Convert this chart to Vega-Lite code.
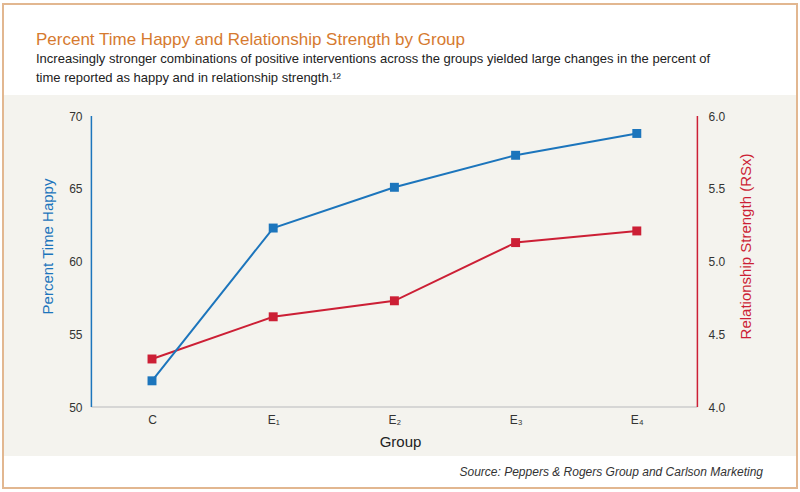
{
  "$schema": "https://vega.github.io/schema/vega-lite/v6.json",
  "width": 794,
  "height": 484,
  "autosize": {"type": "none"},
  "padding": {"left": 3, "top": 4, "right": 3, "bottom": 4},
  "background": "white",
  "config": {
    "view": {"fill": "white", "stroke": "#e2b790", "strokeWidth": 2},
    "font": "Liberation Sans"
  },
  "title": {
    "text": "Percent Time Happy and Relationship Strength by Group",
    "subtitle": [
      "Increasingly stronger combinations of positive interventions across the groups yielded large changes in the percent of",
      "time reported as happy and in relationship strength.¹²"
    ],
    "anchor": "start",
    "frame": "group",
    "orient": "top",
    "offset": 0,
    "dx": 33,
    "dy": 82,
    "font": "Liberation Sans",
    "fontSize": 17,
    "fontWeight": "normal",
    "color": "#d67a2f",
    "subtitleFont": "Liberation Sans",
    "subtitleFontSize": 13,
    "subtitleColor": "#222222",
    "subtitleLineHeight": 19,
    "subtitlePadding": 4
  },
  "datasets": {
    "groups": [
      {"group": "C", "idx": 0, "happy": 51.8, "rsx": 4.33},
      {"group": "E1", "idx": 1, "happy": 62.3, "rsx": 4.62},
      {"group": "E2", "idx": 2, "happy": 65.1, "rsx": 4.73},
      {"group": "E3", "idx": 3, "happy": 67.3, "rsx": 5.13},
      {"group": "E4", "idx": 4, "happy": 68.8, "rsx": 5.21}
    ],
    "one": [{"k": 1}]
  },
  "layer": [
    {
      "data": {"name": "one"},
      "layer": [
        {
          "mark": {"type": "rect", "fill": "#f4f3ee"},
          "encoding": {
            "x": {"datum": -1.2211, "type": "quantitative", "scale": {"domain": [-1.2294, 5.3218], "nice": false, "zero": false}},
            "x2": {"datum": 5.3135},
            "y": {"datum": 71.443, "type": "quantitative", "scale": {"domain": [44.433, 77.698], "nice": false, "zero": false}, "axis": null},
            "y2": {"datum": 46.632}
          }
        },
        {
          "mark": {"type": "rule", "color": "#cdcdcd", "strokeWidth": 1.5},
          "encoding": {
            "x": {"datum": -0.5, "type": "quantitative", "scale": {"domain": [-1.2294, 5.3218], "nice": false, "zero": false}},
            "x2": {"datum": 4.5},
            "y": {"datum": 50, "type": "quantitative", "scale": {"domain": [44.433, 77.698], "nice": false, "zero": false}, "axis": null}
          }
        },
        {
          "mark": {"type": "rule", "color": "#1c75bc", "strokeWidth": 1.5},
          "encoding": {
            "x": {"datum": -0.5, "type": "quantitative", "scale": {"domain": [-1.2294, 5.3218], "nice": false, "zero": false}},
            "y": {"datum": 50, "type": "quantitative", "scale": {"domain": [44.433, 77.698], "nice": false, "zero": false}, "axis": null},
            "y2": {"datum": 70}
          }
        },
        {
          "mark": {"type": "rule", "color": "#cc1f35", "strokeWidth": 1.5},
          "encoding": {
            "x": {"datum": 4.5, "type": "quantitative", "scale": {"domain": [-1.2294, 5.3218], "nice": false, "zero": false}},
            "y": {"datum": 50, "type": "quantitative", "scale": {"domain": [44.433, 77.698], "nice": false, "zero": false}, "axis": null},
            "y2": {"datum": 70}
          }
        },
        {
          "mark": {
            "type": "text",
            "align": "right",
            "baseline": "middle",
            "fontStyle": "italic",
            "fontSize": 12,
            "color": "#333333"
          },
          "encoding": {
            "x": {"datum": 5.0413, "type": "quantitative", "scale": {"domain": [-1.2294, 5.3218], "nice": false, "zero": false}},
            "y": {"datum": 45.533, "type": "quantitative", "scale": {"domain": [44.433, 77.698], "nice": false, "zero": false}, "axis": null},
            "text": {"value": "Source: Peppers & Rogers Group and Carlson Marketing"}
          }
        }
      ]
    },
    {
      "data": {"name": "groups"},
      "mark": {
        "type": "line",
        "color": "#cc1f35",
        "strokeWidth": 2,
        "point": {"shape": "square", "size": 80, "filled": true, "color": "#cc1f35"}
      },
      "encoding": {
        "x": {"field": "idx", "type": "quantitative", "scale": {"domain": [-1.2294, 5.3218], "nice": false, "zero": false}},
        "y": {
          "field": "rsx",
          "type": "quantitative",
          "scale": {"domain": [3.4433, 6.7698], "nice": false, "zero": false},
          "axis": {
            "orient": "right",
            "zindex": 2,
            "values": [4, 4.5, 5, 5.5, 6],
            "format": ".1f",
            "domain": false,
            "ticks": false,
            "grid": false,
            "offset": -99,
            "labelPadding": 10,
            "labelFontSize": 12,
            "labelColor": "#333333",
            "title": "Relationship Strength (RSx)",
            "titleColor": "#cc1f35",
            "titleFontSize": 15,
            "titleFontWeight": "normal",
            "titleAngle": 270,
            "titleBaseline": "top",
            "titlePadding": 14
          }
        }
      }
    },
    {
      "data": {"name": "groups"},
      "mark": {
        "type": "line",
        "color": "#1c75bc",
        "strokeWidth": 2,
        "point": {"shape": "square", "size": 80, "filled": true, "color": "#1c75bc"}
      },
      "encoding": {
        "x": {
          "field": "idx",
          "type": "quantitative",
          "scale": {"domain": [-1.2294, 5.3218], "nice": false, "zero": false},
          "axis": {
            "zindex": 2,
            "values": [0, 1, 2, 3, 4],
            "labelExpr": "['C','E₁','E₂','E₃','E₄'][datum.value]",
            "domain": false,
            "ticks": false,
            "grid": false,
            "offset": -81,
            "labelPadding": 7,
            "labelFontSize": 12,
            "labelColor": "#333333",
            "title": "Group",
            "titleFontSize": 15,
            "titleFontWeight": "normal",
            "titleColor": "#222222",
            "titlePadding": 9
          }
        },
        "y": {
          "field": "happy",
          "type": "quantitative",
          "scale": {"domain": [44.433, 77.698], "nice": false, "zero": false},
          "axis": {
            "orient": "left",
            "zindex": 2,
            "values": [50, 55, 60, 65, 70],
            "domain": false,
            "ticks": false,
            "grid": false,
            "offset": -89,
            "labelPadding": 10,
            "labelFontSize": 12,
            "labelColor": "#333333",
            "title": "Percent Time Happy",
            "titleColor": "#1c75bc",
            "titleFontSize": 15,
            "titleFontWeight": "normal",
            "titlePadding": 13
          }
        }
      }
    }
  ],
  "resolve": {"scale": {"y": "independent"}, "axis": {"y": "independent"}}
}
